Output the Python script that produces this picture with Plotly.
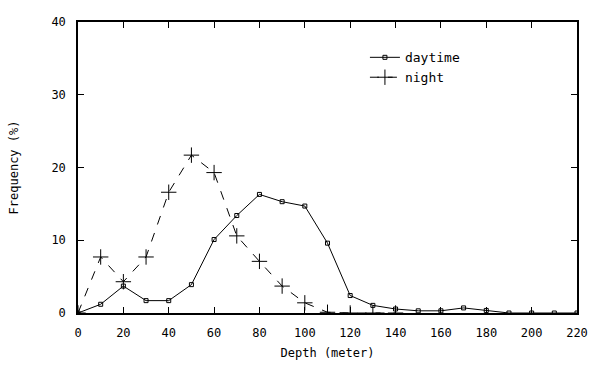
import plotly.graph_objects as go

depth_day = [0, 10, 20, 30, 40, 50, 60, 70, 80, 90, 100, 110, 120, 130, 140, 150, 160, 170, 180, 190, 200, 210, 220]
freq_day = [0, 1.2, 3.7, 1.7, 1.7, 3.9, 10.1, 13.4, 16.3, 15.3, 14.7, 9.6, 2.4, 1.05, 0.55, 0.3, 0.3, 0.7, 0.35, 0, 0, 0, 0]

depth_night = [0, 10, 20, 30, 40, 50, 60, 70, 80, 90, 100, 110, 120, 130, 140]
freq_night = [0, 7.7, 4.3, 7.7, 16.6, 21.7, 19.3, 10.6, 7.1, 3.7, 1.4, 0.1, 0, 0, 0]

x_ticks = [0, 20, 40, 60, 80, 100, 120, 140, 160, 180, 200, 220]
y_ticks = [0, 10, 20, 30, 40]

FONT = "DejaVu Sans Mono"

fig = go.Figure()
fig.add_trace(go.Scatter(
    x=depth_day, y=freq_day, name="daytime", mode="lines+markers",
    line=dict(color="black", width=1),
    marker=dict(symbol="square-open", size=4, color="black", line=dict(width=1)),
))
fig.add_trace(go.Scatter(
    x=depth_night, y=freq_night, name="night", mode="lines+markers",
    line=dict(color="black", width=1, dash="dash"),
    marker=dict(symbol="cross-thin-open", size=11, color="black", line=dict(width=1, color="black")),
))

axis_common = dict(
    showline=True, linecolor="black", linewidth=1.5, mirror="allticks",
    ticks="inside", ticklen=6, tickcolor="black", showgrid=False, zeroline=False,
    tickfont=dict(family=FONT, size=12, color="black"),
)

fig.update_layout(
    width=601, height=381,
    margin=dict(l=78, r=24, t=22, b=68),
    paper_bgcolor="white", plot_bgcolor="white",
    font=dict(family=FONT, size=12, color="black"),
    xaxis=dict(range=[0, 220], tickvals=x_ticks, ticklabelstandoff=8,
               title=dict(text="Depth (meter)", font=dict(family=FONT, size=12), standoff=9),
               **axis_common),
    yaxis=dict(range=[0, 40], tickvals=y_ticks, ticklabelstandoff=8,
               title=dict(text="Frequency (%)", font=dict(family=FONT, size=12), standoff=30),
               **axis_common),
    legend=dict(x=0.575, y=0.93, xanchor="left", yanchor="top",
                bgcolor="rgba(0,0,0,0)", font=dict(family=FONT, size=13),
                itemwidth=30, tracegroupgap=0),
    showlegend=True,
)

fig.write_html("out.html")
